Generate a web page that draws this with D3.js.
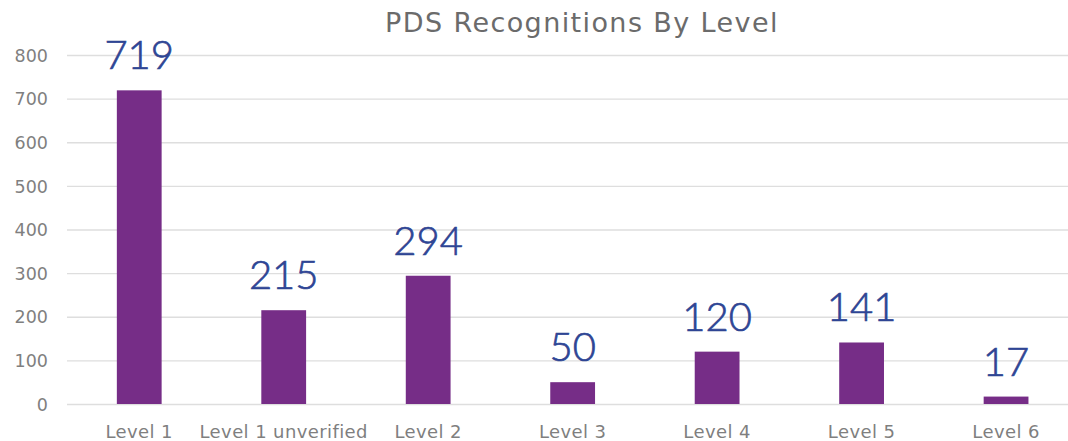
<!DOCTYPE html>
<html>
<head>
<meta charset="utf-8">
<script src="https://cdn.jsdelivr.net/npm/d3@7"></script>
<style>
  html, body { margin: 0; padding: 0; background: #ffffff; }
  svg { display: block; }
</style>
</head>
<body>
<svg id="chart" width="1068" height="441"></svg>
<script>
const title = "PDS Recognitions By Level";
const categories = ["Level 1", "Level 1 unverified", "Level 2", "Level 3", "Level 4", "Level 5", "Level 6"];
const values = [719, 215, 294, 50, 120, 141, 17];
const yTicks = [0, 100, 200, 300, 400, 500, 600, 700, 800];

const W = 1068, H = 441;
const svg = d3.select("#chart");

const x = d3.scaleBand()
  .domain(categories)
  .range([67, 1078.3])
  .paddingInner(0.69)
  .paddingOuter(0.345);

const y = d3.scaleLinear()
  .domain([0, 800])
  .range([404, 55]);

// gridlines
const grid = d3.axisLeft(y).tickValues(yTicks).tickSize(-(W - 67)).tickFormat("");
svg.append("g")
  .attr("transform", "translate(67,0)")
  .call(grid)
  .call(g => g.select(".domain").remove())
  .call(g => g.selectAll("line").attr("stroke", "#dedede").attr("stroke-width", 1.3));

// y axis labels
svg.append("g")
  .attr("transform", "translate(48,0)")
  .call(d3.axisLeft(y).tickValues(yTicks).tickSize(0).tickPadding(0))
  .call(g => g.select(".domain").remove())
  .call(g => g.selectAll("text")
    .attr("font-family", "'DejaVu Sans', sans-serif")
    .attr("font-size", "17.5px")
    .attr("fill", "#7f7f7f")
    .attr("dy", "0.35em"));

// x axis labels
svg.append("g")
  .attr("transform", "translate(0,404)")
  .call(d3.axisBottom(x).tickSize(0).tickPadding(0))
  .call(g => g.select(".domain").remove())
  .call(g => g.selectAll("text")
    .attr("font-family", "'DejaVu Sans', sans-serif")
    .attr("font-size", "18px")
    .attr("letter-spacing", "0.4px")
    .attr("fill", "#7f7f7f")
    .attr("y", 34)
    .attr("dy", 0));

// bars
svg.append("g")
  .selectAll("rect")
  .data(values)
  .join("rect")
  .attr("x", (d, i) => x(categories[i]))
  .attr("y", d => y(d))
  .attr("width", x.bandwidth())
  .attr("height", d => y(0) - y(d))
  .attr("fill", "#762D87");

// value labels
svg.append("g")
  .selectAll("text")
  .data(values)
  .join("text")
  .attr("x", (d, i) => x(categories[i]) + x.bandwidth() / 2)
  .attr("y", d => y(d) - 21)
  .attr("text-anchor", "middle")
  .attr("font-family", "Lato, 'Open Sans', sans-serif")
  .attr("font-weight", 300)
  .attr("font-size", "40px")
  .attr("fill", "#2E4594")
  .attr("stroke", "#2E4594")
  .attr("stroke-width", 0.7)
  .text(d => d);

// title
svg.append("text")
  .attr("x", 582)
  .attr("y", 32)
  .attr("text-anchor", "middle")
  .attr("font-family", "'DejaVu Sans', sans-serif")
  .attr("font-size", "27px")
  .attr("letter-spacing", "1.4px")
  .attr("fill", "#6b6b6b")
  .text(title);
</script>
</body>
</html>
